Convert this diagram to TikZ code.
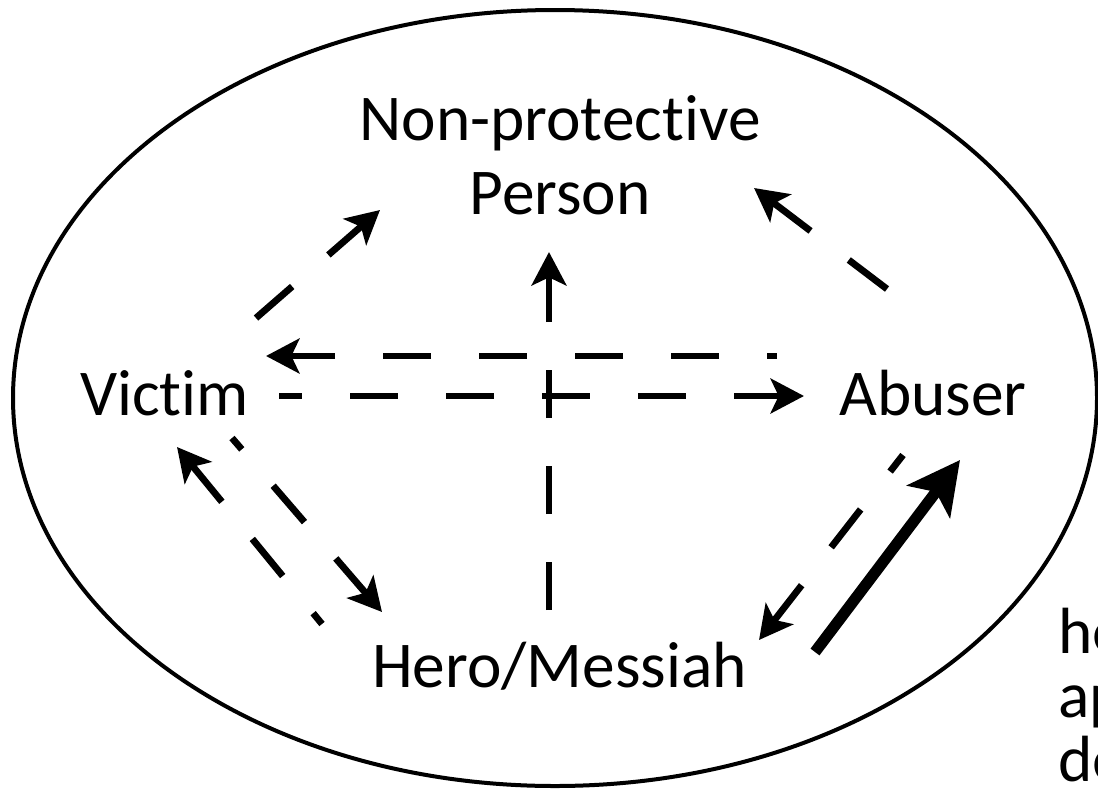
\documentclass[tikz,border=0pt]{standalone}
\usepackage{fontspec}
\setmainfont{Carlito}[Ligatures={NoCommon}]
\usetikzlibrary{arrows.meta,calc}
\tikzset{
  lbl/.style={inner sep=0pt, anchor=base, font=\fontsize{49pt}{55.5pt}\selectfont},
  dline/.style={line width=5.1pt, dash pattern=on 36pt off 36pt,
    -{Stealth[length=25pt,width=26pt,inset=6pt]}},
  thickarrow/.style={line width=8.4pt, -{Stealth[length=39pt,width=40pt,inset=9pt]}},
  rim/.style={line width=3pt}
}
\begin{document}
\begin{tikzpicture}[x=0.75pt,y=-0.75pt]
\useasboundingbox (0,0) rectangle (1098,789);
\draw[rim] (555,398) ellipse [x radius=542, y radius=388];
\node[lbl, align=center] (np) at (560,214) {Non-protective\\Person};
\node[lbl] (victim) at (164.5,415) {Victim};
\node[lbl] (abuser) at (933,415) {Abuser};
\node[lbl] (hero) at (559.5,687) {Hero/Messiah};
\node[lbl, anchor=base west, align=left, font=\fontsize{49pt}{48pt}\selectfont] (cut) at (1058,781) {he\\ap\\de};
% Victim -> Non-protective
\draw[dline] ($(victim.base)+(91.5,-97)$) -- ($(np.base)+(-180,-4)$);
% Victim -> Abuser
\draw[dline, dash phase=18.75pt] ($(victim.base)+(114.5,-19)$) -- ($(abuser.base)+(-129,-19)$);
% Abuser -> Victim
\draw[dline, dash phase=28.5pt] ($(abuser.base)+(-156,-59)$) -- ($(victim.base)+(101.5,-59)$);
% Hero -> Non-protective
\draw[dline] ($(hero.base)+(-10.5,-77)$) -- ($(np.base)+(-11,38)$);
% Abuser -> Non-protective
\draw[dline] ($(abuser.base)+(-46,-126)$) -- ($(np.base)+(194,-26)$);
% Victim -> Hero
\draw[dline, dash phase=24.75pt] ($(victim.base)+(67.5,23)$) -- ($(hero.base)+(-177.5,-75)$);
% Hero -> Victim
\draw[dline, dash phase=25.5pt] ($(hero.base)+(-237.5,-63)$) -- ($(victim.base)+(12.5,32)$);
% Abuser -> Hero
\draw[dline, dash phase=20.25pt] ($(abuser.base)+(-30,40)$) -- ($(hero.base)+(199.5,-47)$);
% Hero -> Abuser (solid, thick)
\draw[thickarrow] ($(hero.base)+(255.5,-35)$) -- ($(abuser.base)+(27,45)$);
\end{tikzpicture}
\end{document}
